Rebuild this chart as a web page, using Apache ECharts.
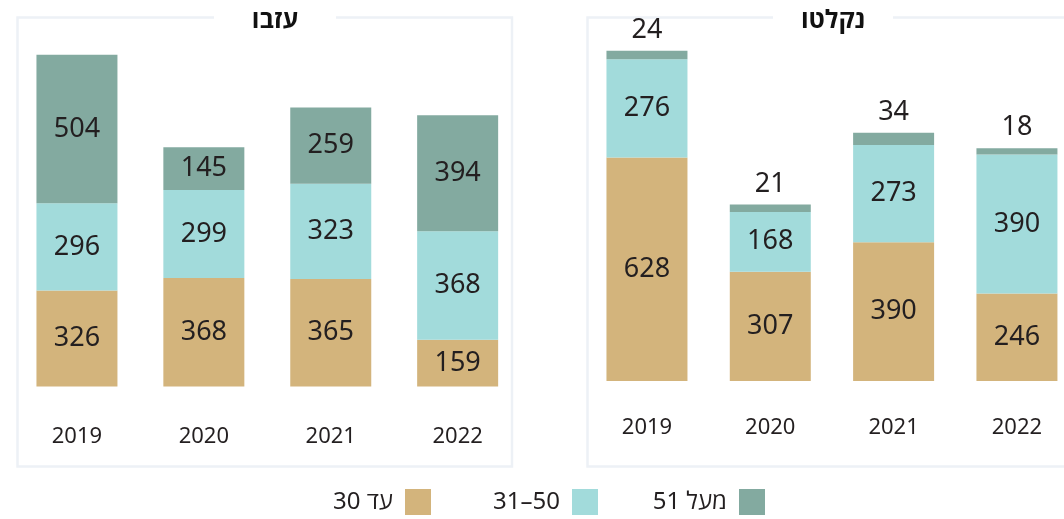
<!DOCTYPE html>
<html lang="he">
<head>
<meta charset="utf-8">
<title>עזבו / נקלטו</title>
<script src="https://cdn.jsdelivr.net/npm/echarts@6/dist/echarts.min.js"></script>
<style>
  html, body { margin: 0; padding: 0; background: #ffffff; }
  #chart { width: 1064px; height: 519px; }
</style>
</head>
<body>
<div id="chart"></div>
<script>
// Years shown on both panels
const years = ['2019', '2020', '2021', '2022'];

// Age groups (legend names)
const groupNames = ['עד 30', '31–50', 'מעל 51'];

// Panel titles
const leftTitle = 'עזבו';
const rightTitle = 'נקלטו';

// Left panel values by age group
const leftUpTo30 = [326, 368, 365, 159];
const left31to50 = [296, 299, 323, 368];
const leftOver51 = [504, 145, 259, 394];

// Right panel values by age group
const rightUpTo30 = [628, 307, 390, 246];
const right31to50 = [276, 168, 273, 390];
const rightOver51 = [24, 21, 34, 18];

const colors = ['#d3b47c', '#a2dbdb', '#83aaa0'];
const textColor = '#231f20';
const fontFamily = '"Noto Sans", "Open Sans", "DejaVu Sans", sans-serif';
const frameColor = '#edf1f6';

function makeSeries(name, data, axisIndex, color, labelPos) {
  return {
    name: name,
    type: 'bar',
    stack: 'panel' + axisIndex,
    xAxisIndex: axisIndex,
    yAxisIndex: axisIndex,
    data: data,
    barWidth: 81,
    itemStyle: { color: color },
    label: {
      show: true,
      position: labelPos,
      distance: 7,
      color: textColor,
      fontSize: 27,
      fontFamily: fontFamily
    },
    emphasis: { disabled: true }
  };
}

function makeXAxis(gridIndex, margin) {
  return {
    type: 'category',
    gridIndex: gridIndex,
    data: years,
    axisLine: { show: false },
    axisTick: { show: false },
    axisLabel: {
      margin: margin,
      color: textColor,
      fontSize: 22,
      fontFamily: fontFamily
    }
  };
}

function makeYAxis(gridIndex, max) {
  return {
    type: 'value',
    gridIndex: gridIndex,
    min: 0,
    max: max,
    show: false,
    splitLine: { show: false }
  };
}

// One legend block per age group, anchored by the right edge of its swatch
function makeLegend(name, swatchRight) {
  return {
    data: [name],
    right: 1064 - swatchRight,
    top: 489,
    align: 'right',
    itemWidth: 26,
    itemHeight: 26,
    icon: 'rect',
    selectedMode: false,
    padding: 0,
    textStyle: {
      color: textColor,
      fontSize: 24,
      fontFamily: fontFamily,
      padding: [0, 7, 0, 0]
    }
  };
}

function panelFrame(x, y, w, h, titleText, titleX, gapW) {
  return [
    {
      type: 'rect',
      z: 1,
      shape: { x: x, y: y, width: w, height: h },
      style: { fill: null, stroke: frameColor, lineWidth: 2.5 }
    },
    {
      type: 'rect',
      z: 2,
      shape: { x: titleX - gapW / 2, y: y - 6, width: gapW, height: 14 },
      style: { fill: '#ffffff' }
    },
    {
      type: 'text',
      z: 3,
      x: titleX,
      y: 21,
      style: {
        text: titleText,
        fill: '#111111',
        font: 'bold 25px ' + fontFamily,
        align: 'center',
        verticalAlign: 'middle'
      }
    }
  ];
}

const chart = echarts.init(document.getElementById('chart'), null, { renderer: 'canvas' });

chart.setOption({
  animation: false,
  backgroundColor: '#ffffff',
  grid: [
    { left: 13.5, width: 507.6, top: 33, height: 353.5, outerBoundsMode: 'none' },
    { left: 585.3, width: 493.3, top: 25, height: 356, outerBoundsMode: 'none' }
  ],
  xAxis: [makeXAxis(0, 39), makeXAxis(1, 36)],
  yAxis: [makeYAxis(0, 1200), makeYAxis(1, 1000)],
  legend: [
    makeLegend(groupNames[0], 431),
    makeLegend(groupNames[1], 598),
    makeLegend(groupNames[2], 765)
  ],
  graphic: [
    ...panelFrame(17.5, 17.5, 494.5, 449, leftTitle, 275, 122),
    ...panelFrame(587.5, 17.5, 500, 449, rightTitle, 833, 120)
  ],
  series: [
    makeSeries(groupNames[0], leftUpTo30, 0, colors[0], 'inside'),
    makeSeries(groupNames[1], left31to50, 0, colors[1], 'inside'),
    makeSeries(groupNames[2], leftOver51, 0, colors[2], 'inside'),
    makeSeries(groupNames[0], rightUpTo30, 1, colors[0], 'inside'),
    makeSeries(groupNames[1], right31to50, 1, colors[1], 'inside'),
    makeSeries(groupNames[2], rightOver51, 1, colors[2], 'top')
  ]
});
</script>
</body>
</html>
